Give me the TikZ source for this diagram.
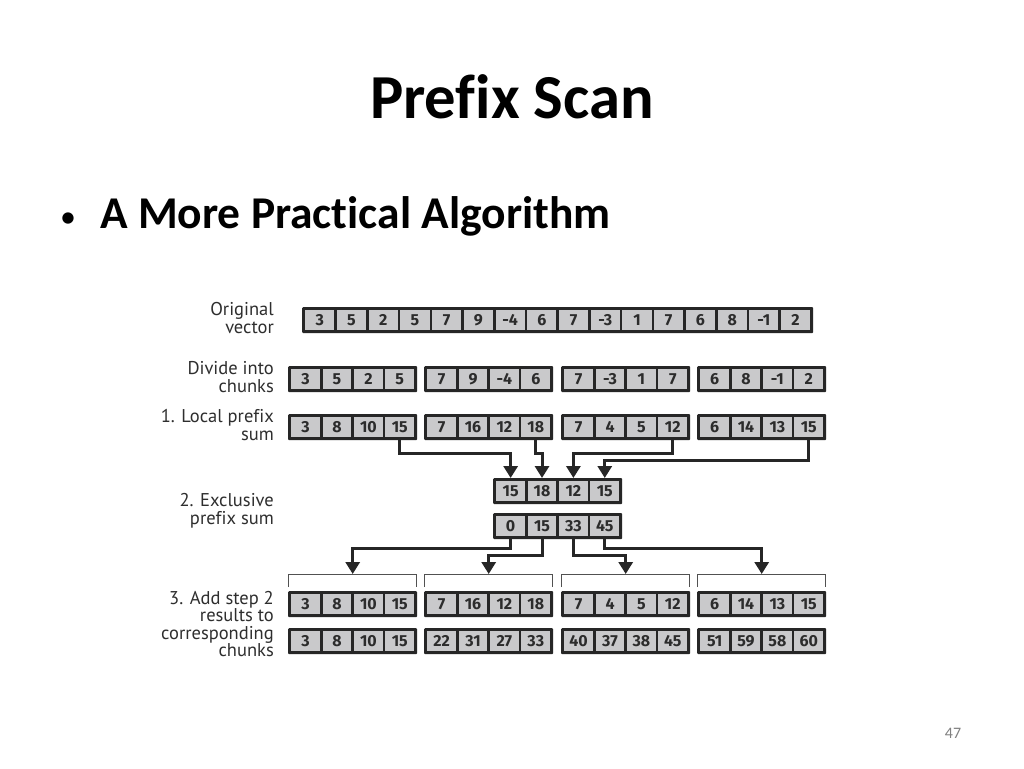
\documentclass[tikz,border=0pt]{standalone}
\usepackage{fontspec}
\setmainfont{Carlito}[Ligatures=NoCommon]
\newfontfamily\lblfont{PT Sans}[Ligatures=NoCommon]
\newfontfamily\numfont{Fira Sans}[Numbers={Lining,Proportional}]
\usetikzlibrary{arrows.meta,calc}
\definecolor{dark}{HTML}{262626}
\definecolor{cellgray}{HTML}{C9C9CB}
\definecolor{numcol}{HTML}{2C2C2C}
\definecolor{lblcol}{HTML}{2E2E2E}
\newcommand\cellrow[6]{%
  \node[rowbox, minimum width=#4pt, anchor=north west] (#1) at (#2,#3) {};
  \pgfmathsetmacro\cw{(#4-6-(#5-1)*2.5)/#5}
  \foreach \v [count=\i] in {#6} {
    \node[cell, minimum width=\cw pt, anchor=west] (#1-\i) at ({#2+3+(\i-1)*(\cw+2.5)}, {#3+13}) {\v};
  }%
}
\begin{document}
\begin{tikzpicture}[x=1pt,y=-1pt,
  rowbox/.style={fill=dark, draw=none, minimum height=26pt, inner sep=0pt, rounded corners=1pt},
  cell/.style={fill=cellgray, minimum height=20pt, inner sep=0pt, text=numcol,
    text height=11pt, text depth=0pt,
    font=\numfont\bfseries\fontsize{16}{16}\selectfont},
  lbl/.style={align=right, anchor=east, text=lblcol, inner sep=0pt,
    font=\lblfont\fontsize{18.5}{17.5}\selectfont},
  arr/.style={draw=dark, line width=3pt, -{Triangle[width=14pt,length=12pt]}},
  brk/.style={draw=dark!80, line width=1pt},
]
\useasboundingbox[fill=white] (0,0) rectangle (1024,768);

\node[font=\bfseries\fontsize{62.6}{70}\selectfont] (title) at (512,97) {Pref\kern0pt ix Scan};
\node[anchor=base west, font=\fontsize{32}{36}\selectfont, inner sep=0pt] (bul) at (60,227) {•};
\node[anchor=base west, font=\bfseries\fontsize{45.5}{50}\selectfont, inner sep=0pt] (sub) at (100,228) {A More Pract\kern0pt ical Algorithm};
\node[font=\fontsize{16}{16}\selectfont, text=gray] (pg) at (953,733) {47};

% labels
\node[lbl] (l1) at (274,318) {Original\\vector};
\node[lbl] (l2) at (274,377) {Divide into\\chunks};
\node[lbl] (l3) at (274,425) {1. Local pref\kern0pt ix\\sum};
\node[lbl] (l4) at (274,511) {2. Exclusive\\pref\kern0pt ix sum};
\node[lbl] (l5) at (274,624) {3. Add step 2\\results to\\corresponding\\chunks};

% rows
\cellrow{O}{302}{307}{511}{16}{3,5,2,5,7,9,-4,6,7,-3,1,7,6,8,-1,2}

\cellrow{D1}{288}{366}{129}{4}{3,5,2,5}
\cellrow{D2}{424}{366}{129}{4}{7,9,-4,6}
\cellrow{D3}{561}{366}{129}{4}{7,-3,1,7}
\cellrow{D4}{697}{366}{129}{4}{6,8,-1,2}

\cellrow{L1}{288}{414}{129}{4}{3,8,10,15}
\cellrow{L2}{424}{414}{129}{4}{7,16,12,18}
\cellrow{L3}{561}{414}{129}{4}{7,4,5,12}
\cellrow{L4}{697}{414}{129}{4}{6,14,13,15}

\cellrow{S}{493}{478}{129}{4}{15,18,12,15}
\cellrow{E}{493}{513}{129}{4}{0,15,33,45}

\cellrow{A1}{288}{591}{129}{4}{3,8,10,15}
\cellrow{A2}{424}{591}{129}{4}{7,16,12,18}
\cellrow{A3}{561}{591}{129}{4}{7,4,5,12}
\cellrow{A4}{697}{591}{129}{4}{6,14,13,15}

\cellrow{R1}{288}{628}{129}{4}{3,8,10,15}
\cellrow{R2}{424}{628}{129}{4}{22,31,27,33}
\cellrow{R3}{561}{628}{129}{4}{40,37,38,45}
\cellrow{R4}{697}{628}{129}{4}{51,59,58,60}

% brackets
\foreach \k in {1,2,3,4} {
  \draw[brk] ($(A\k.north west)+(0.5,-4)$) -- ++(0,-13) -| ($(A\k.north east)+(-0.5,-4)$);
  \coordinate (B\k) at ($(A\k.north)+(0,-17)$);
}

% arrows to step 2
\draw[arr] (L1-4.south |- L1.south) -- ++(0,13) -| (S-1.north |- S.north);
\draw[arr] (L2-4.south |- L2.south) -- ++(0,13) -| (S-2.north |- S.north);
\draw[arr] (L3-4.south |- L3.south) -- ++(0,13) -| (S-3.north |- S.north);
\draw[arr] (L4-4.south |- L4.south) -- ++(0,20) -| (S-4.north |- S.north);

% arrows to step 3
\draw[arr] (E-1.south |- E.south) -- ++(0,9) -| (B1);
\draw[arr] (E-2.south |- E.south) -- ++(0,16) -| (B2);
\draw[arr] (E-3.south |- E.south) -- ++(0,16) -| (B3);
\draw[arr] (E-4.south |- E.south) -- ++(0,9) -| (B4);
\end{tikzpicture}
\end{document}
